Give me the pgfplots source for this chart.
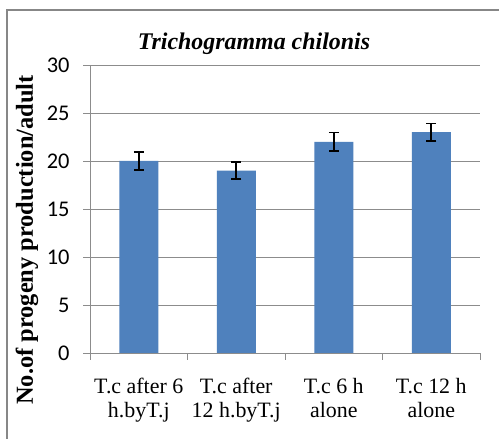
\documentclass[border=0pt]{standalone}
\usepackage{fontspec}
\setmainfont{Liberation Serif}[BoldFont=Liberation Serif Bold, ItalicFont=Liberation Serif Italic, BoldItalicFont=Liberation Serif Bold Italic]
\newfontfamily\calibri{Carlito}
\usepackage{pgfplots}
\pgfplotsset{compat=1.18}
\definecolor{barblue}{RGB}{79,129,189}
\definecolor{axgray}{RGB}{140,140,140}
\definecolor{framegray}{RGB}{135,135,135}
\begin{document}
\begin{tikzpicture}
\useasboundingbox[fill=white] (0,0) rectangle (499bp,439bp);
\draw[framegray, line width=1.6bp] (7bp,0bp) -- (7bp,429bp) -- (499bp,429bp);
\begin{axis}[
  at={(90bp,86bp)}, anchor=south west,
  scale only axis, width=390bp, height=288bp,
  xmin=-0.5, xmax=3.5, ymin=0, ymax=30,
  axis x line=bottom, axis y line=left,
  axis line style={-, draw=axgray, line width=0.8bp},
  ytick={0,5,...,30},
  ymajorgrids, grid style={axgray, line width=0.8bp},
  tick align=outside,
  major tick length=7bp,
  ytick style={axgray, line width=0.8bp},
  xtick={0,1,2,3},
  xtick style={draw=none},
  xticklabels={{T.c after 6\\h.byT.j},{T.c after\\12 h.byT.j},{T.c 6 h\\alone},{T.c 12 h\\alone}},
  xticklabel style={align=center, font=\fontsize{22}{23.5}\selectfont, yshift=-15bp},
  extra x ticks={-0.5,0.5,1.5,2.5,3.5},
  extra x tick labels={},
  extra x tick style={grid=none, xtick style={draw=axgray, line width=0.8bp}, major tick length=7bp},
  /pgf/number format/assume math mode=true,
  yticklabel style={font=\calibri\fontsize{22.5}{22.5}\selectfont, xshift=-10bp},
  ybar, bar width=0.4,
]
\addplot[fill=barblue, draw=none,
  error bars/.cd, y dir=both, y explicit,
  error bar style={draw=black, line width=1.6bp},
  error mark options={draw=black, rotate=90, line width=1.6bp, mark size=5bp}]
  coordinates {(0,20) +- (0,0.95) (1,19) +- (0,0.9) (2,22) +- (0,0.95) (3,23) +- (0,0.9)};
\end{axis}
\node[font=\bfseries\itshape\fontsize{24}{24}\selectfont, anchor=base] at (254bp,389bp) {Trichogramma chilonis};
\node[font=\bfseries\fontsize{24.5}{24.5}\selectfont, rotate=90] at (27bp,199bp) {No.of progeny production/adult};
\end{tikzpicture}
\end{document}
